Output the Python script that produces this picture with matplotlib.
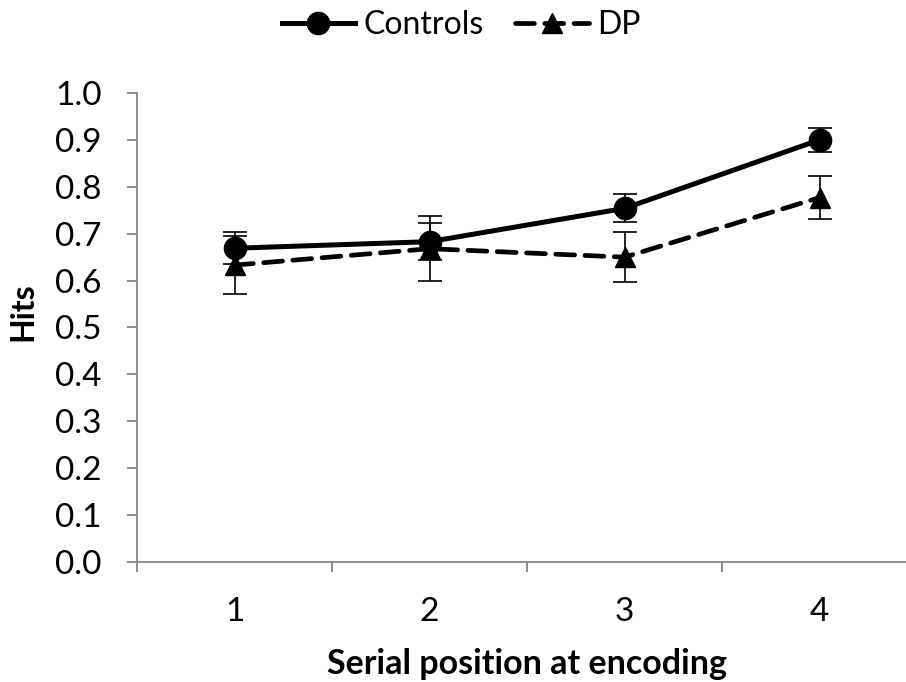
import numpy as np
import matplotlib
matplotlib.use("Agg")
import matplotlib.pyplot as plt

plt.rcParams["font.family"] = ["Lato", "DejaVu Sans"]

# Data
positions = [1, 2, 3, 4]
position_labels = ["1", "2", "3", "4"]
controls = [0.669, 0.683, 0.754, 0.900]
controls_err = [0.034, 0.039, 0.030, 0.026]
dp = [0.633, 0.668, 0.650, 0.777]
dp_err = [0.062, 0.069, 0.054, 0.046]
y_ticks = [0.0, 0.1, 0.2, 0.3, 0.4, 0.5, 0.6, 0.7, 0.8, 0.9, 1.0]

axis_grey = "#868686"

fig = plt.figure(figsize=(9.06, 6.82), dpi=100)
ax = fig.add_axes([137 / 906, 120 / 682, 780 / 906, 469 / 682])

# error bars (thin, capped)
ax.errorbar(positions, controls, yerr=controls_err, fmt="none", ecolor="black",
            elinewidth=1.2, capsize=8.5, capthick=1.2, zorder=4)
ax.errorbar(positions, dp, yerr=dp_err, fmt="none", ecolor="black",
            elinewidth=1.2, capsize=8.5, capthick=1.2, zorder=4)

# series lines
ax.plot(positions, controls, color="black", lw=3.6, marker="o", ms=16,
        label="Controls", zorder=3)
ax.plot(positions, dp, color="black", lw=3.4, ls=(0, (4, 2.2)), marker="^",
        ms=14, dash_capstyle="round", label="DP", zorder=3)

ax.set_xlim(0.5, 4.5)
ax.set_ylim(0, 1.0)
ax.set_yticks(y_ticks)
ax.set_yticklabels([f"{v:.1f}" for v in y_ticks])

# category labels centred, tick marks between categories
ax.set_xticks(positions)
ax.set_xticklabels(position_labels)
ax.set_xticks([0.5, 1.5, 2.5, 3.5, 4.5], minor=True)
ax.tick_params(axis="x", which="major", length=0, pad=25, labelsize=24)
ax.tick_params(axis="x", which="minor", length=7.5, width=1.3, color=axis_grey,
               direction="out")
ax.tick_params(axis="y", length=7.5, width=1.3, color=axis_grey, pad=18,
               labelsize=24, direction="out")

for side in ["top", "right"]:
    ax.spines[side].set_visible(False)
for side in ["left", "bottom"]:
    ax.spines[side].set_color(axis_grey)
    ax.spines[side].set_linewidth(1.3)

ax.set_xlabel("Serial position at encoding", fontsize=24.5, fontweight="bold")
ax.xaxis.label.set_va("center")
ax.xaxis.set_label_coords(390 / 780, -102 / 469)
ax.set_ylabel("Hits", fontsize=23, fontweight="bold")
ax.yaxis.set_label_coords(-100 / 780, 250 / 469)

fig.legend(loc="center", bbox_to_anchor=(461 / 906, 657 / 682), ncol=2,
           frameon=False, fontsize=23, handlelength=2.3, columnspacing=1.0,
           handletextpad=0.25)

fig.savefig("out.png", dpi=100)
